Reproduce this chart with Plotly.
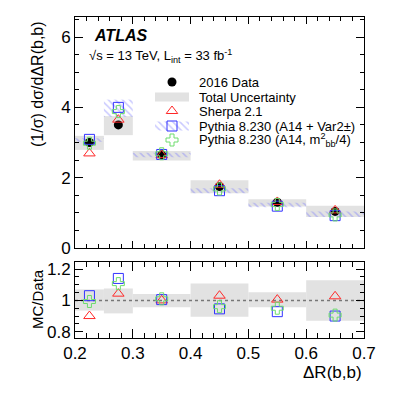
import plotly.graph_objects as go

# binning in dR(b,b)
bin_lo = [0.20, 0.25, 0.30, 0.40, 0.50, 0.60]
bin_hi = [0.25, 0.30, 0.40, 0.50, 0.60, 0.70]

# unfolded data, normalised cross section
data_val = [3.00, 3.50, 2.65, 1.75, 1.30, 1.04]
data_err = [0.06, 0.07, 0.04, 0.04, 0.03, 0.03]
unc_lo = [2.79, 3.21, 2.49, 1.56, 1.18, 0.88]
unc_hi = [3.19, 3.75, 2.76, 1.93, 1.39, 1.20]

# predictions
sherpa = [2.69, 3.65, 2.64, 1.80, 1.31, 1.07]
pyth_var2 = [3.09, 4.00, 2.66, 1.63, 1.19, 0.92]
var2_lo = [3.02, 3.73, 2.58, 1.56, 1.16, 0.88]
var2_hi = [3.12, 4.22, 2.71, 1.70, 1.29, 1.04]
pyth_mbb = [2.98, 3.88, 2.68, 1.68, 1.24, 0.94]

# ratio panel
rat_unc_lo = [0.935, 0.917, 0.957, 0.896, 0.957, 0.870]
rat_unc_hi = [1.070, 1.076, 1.040, 1.107, 1.052, 1.128]
rat_sherpa = [0.900, 1.043, 1.000, 1.030, 1.005, 1.026]
rat_var2 = [1.030, 1.140, 1.005, 0.946, 0.928, 0.900]
rat_mbb = [0.993, 1.107, 1.010, 0.960, 0.950, 0.906]

centers = [(a + b) / 2 for a, b in zip(bin_lo, bin_hi)]
widths = [b - a for a, b in zip(bin_lo, bin_hi)]

RED = 'rgb(255,40,40)'
BLUE = 'rgb(50,50,255)'
GREEN = 'rgb(110,220,110)'
GRAY = '#e2e2e2'
HATCH = 'rgba(110,110,255,0.75)'

W, H = 407, 394
L, R, T, B = 75, 364, 17, 338


def px(x):
    return (x - L) / (R - L)


def py(y):
    return (B - y) / (B - T)


def hatch_marker():
    return dict(color='rgba(0,0,0,0)', line_width=0,
                pattern=dict(shape='\\', fgcolor=HATCH, bgcolor='rgba(0,0,0,0)',
                             size=5, solidity=0.3, fillmode='overlay'))


fig = go.Figure()

# top panel
fig.add_trace(go.Bar(x=centers, y=[h - l for l, h in zip(unc_lo, unc_hi)], base=unc_lo,
                     width=widths, marker=dict(color=GRAY, line_width=0),
                     xaxis='x', yaxis='y'))
fig.add_trace(go.Bar(x=centers, y=[h - l for l, h in zip(var2_lo, var2_hi)], base=var2_lo,
                     width=widths, marker=hatch_marker(), xaxis='x', yaxis='y'))
fig.add_trace(go.Scatter(x=centers, y=data_val, mode='markers',
                         marker=dict(symbol='circle', size=9, color='black'),
                         error_y=dict(type='data', array=data_err, color='black',
                                      thickness=1, width=0),
                         xaxis='x', yaxis='y'))
mc_styles = [
    (sherpa, rat_sherpa, 'triangle-up-open', RED),
    (pyth_var2, rat_var2, 'square-open', BLUE),
    (pyth_mbb, rat_mbb, 'cross-open', GREEN),
]
for top, rat, sym, col in mc_styles:
    fig.add_trace(go.Scatter(x=centers, y=top, mode='markers',
                             marker=dict(symbol=sym, size=10, color=col, line=dict(width=1, color=col)),
                             xaxis='x', yaxis='y'))

# ratio panel
fig.add_trace(go.Bar(x=centers, y=[h - l for l, h in zip(rat_unc_lo, rat_unc_hi)], base=rat_unc_lo,
                     width=widths, marker=dict(color=GRAY, line_width=0),
                     xaxis='x2', yaxis='y2'))
fig.add_trace(go.Scatter(x=[bin_lo[0], bin_hi[-1]], y=[1, 1], mode='lines',
                         line=dict(color='#777777', width=1.5, dash='dot'),
                         xaxis='x2', yaxis='y2'))
for top, rat, sym, col in mc_styles:
    fig.add_trace(go.Scatter(x=centers, y=rat, mode='markers',
                             marker=dict(symbol=sym, size=10, color=col, line=dict(width=1, color=col)),
                             xaxis='x2', yaxis='y2'))

# legend, drawn on a pixel-coordinate overlay
leg_x, leg_icon_w = 172, 34
leg_rows = [82, 97, 111, 126, 140]
fig.add_trace(go.Bar(x=[leg_x], y=[9], base=[leg_rows[1] - 4.5], width=[leg_icon_w],
                     marker=dict(color=GRAY, line_width=0), xaxis='x3', yaxis='y3'))
fig.add_trace(go.Bar(x=[leg_x], y=[9], base=[leg_rows[3] - 4.5], width=[leg_icon_w],
                     marker=hatch_marker(), xaxis='x3', yaxis='y3'))
fig.add_trace(go.Scatter(x=[leg_x], y=[leg_rows[0]], mode='markers',
                         marker=dict(symbol='circle', size=9, color='black'),
                         xaxis='x3', yaxis='y3'))
for row, (_, _, sym, col) in zip([leg_rows[2], leg_rows[3], leg_rows[4]], mc_styles):
    fig.add_trace(go.Scatter(x=[leg_x], y=[row], mode='markers',
                             marker=dict(symbol=sym, size=10, color=col, line=dict(width=1, color=col)),
                             xaxis='x3', yaxis='y3'))

leg_text = ['2016 Data', 'Total Uncertainty', 'Sherpa 2.1',
            'Pythia 8.230 (A14 + Var2±)', 'Pythia 8.230 (A14, m<sup>2</sup><sub>bb</sub>/4)']
ann = []
for row, txt in zip(leg_rows, leg_text):
    ann.append(dict(x=px(197), y=py(row), xref='paper', yref='paper', text=txt,
                    showarrow=False, xanchor='left', yanchor='middle',
                    font=dict(size=13, color='black')))
ann += [
    dict(x=px(92), y=py(35), xref='paper', yref='paper', text='<b><i>ATLAS</i></b>',
         showarrow=False, xanchor='left', yanchor='middle', font=dict(size=16, color='black')),
    dict(x=px(87), y=py(56), xref='paper', yref='paper',
         text='√s = 13 TeV, L<sub>int</sub> = 33 fb<sup>-1</sup>',
         showarrow=False, xanchor='left', yanchor='middle', font=dict(size=13, color='black')),
    dict(x=px(37), y=py(84), xref='paper', yref='paper', text='(1/σ) dσ/dΔR(b,b)',
         showarrow=False, textangle=-90, xanchor='center', yanchor='middle',
         font=dict(size=16, color='black')),
    dict(x=px(37), y=py(299), xref='paper', yref='paper', text='MC/Data',
         showarrow=False, textangle=-90, xanchor='center', yanchor='middle',
         font=dict(size=15, color='black')),
    dict(x=1, y=py(372), xref='paper', yref='paper', text='ΔR(b,b)',
         showarrow=False, xanchor='right', yanchor='middle', font=dict(size=17, color='black')),
]

axis_common = dict(showline=True, linecolor='black', linewidth=1, mirror='allticks',
                   ticks='inside', tickcolor='black', showgrid=False, zeroline=False,
                   automargin=False, tickfont=dict(size=17, color='black'))

fig.update_layout(
    width=W, height=H,
    margin=dict(l=L, r=W - R, t=T, b=H - B),
    paper_bgcolor='white', plot_bgcolor='rgba(0,0,0,0)',
    font=dict(family='Liberation Sans, Arial, sans-serif', color='black'),
    showlegend=False, barmode='overlay',
    annotations=ann,
    xaxis=dict(domain=[0, 1], anchor='y', range=[0.2, 0.7], dtick=0.1, ticklen=7,
               showticklabels=False,
               minor=dict(dtick=0.02, ticklen=4, ticks='inside', tickcolor='black'),
               **axis_common),
    yaxis=dict(domain=[py(248), 1], anchor='x', range=[0, 6.57], dtick=2, ticklen=8,
               minor=dict(dtick=0.5, ticklen=4, ticks='inside', tickcolor='black'),
               **axis_common),
    xaxis2=dict(domain=[0, 1], anchor='y2', range=[0.2, 0.7], dtick=0.1, ticklen=9,
                tickformat='.1f',
                minor=dict(dtick=0.02, ticklen=5, ticks='inside', tickcolor='black'),
                **axis_common),
    yaxis2=dict(domain=[0, py(262)], anchor='x2', range=[0.76, 1.245],
                tickvals=[0.8, 1.0, 1.2], ticktext=['0.8', '1', '1.2'], ticklen=8,
                minor=dict(dtick=0.05, ticklen=4, ticks='inside', tickcolor='black'),
                **axis_common),
    xaxis3=dict(domain=[0, 1], anchor='y3', range=[L, R], visible=False),
    yaxis3=dict(domain=[0, 1], anchor='x3', range=[B, T], visible=False),
)

# the default page body has an 8px margin; drop it so the figure sits at the origin
fig.write_html('out.html', config={'displayModeBar': False},
               post_script="document.body.style.margin='0';")
